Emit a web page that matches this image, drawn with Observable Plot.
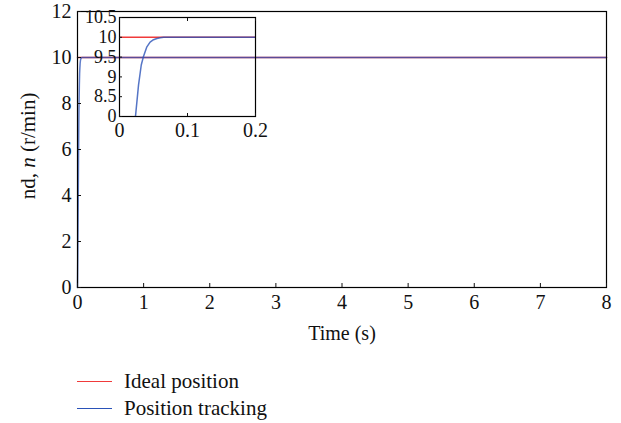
<!DOCTYPE html>
<html>
<head>
<meta charset="utf-8">
<script src="https://cdn.jsdelivr.net/npm/d3@7"></script>
<script src="https://cdn.jsdelivr.net/npm/@observablehq/plot@0.6"></script>
<style>
  html, body { margin: 0; padding: 0; background: #fff; }
  #wrap { position: relative; width: 621px; height: 423px; font-family: "Liberation Serif", "DejaVu Serif", serif; }
  #inset { position: absolute; left: 0; top: 0; }
  #legend { position: absolute; left: 77px; top: 368px; font-size: 21px; color: #111; line-height: 27px; }
  #legend .row { display: flex; align-items: center; }
  #legend .sw { width: 35px; height: 0; border-top: 1.5px solid; margin-right: 12px; }
</style>
</head>
<body>
<div id="wrap"></div>
<script>
// ---- data ----
const idealTime = [0, 8];
const idealSpeed = [10, 10];
const trackTime = [0, 0.005, 0.01, 0.015, 0.02, 0.0235, 0.028, 0.032, 0.035, 0.04, 0.045, 0.05, 0.055, 0.06, 0.065, 0.1, 0.2, 8];
const trackSpeed = [0, 1.5, 3.5, 5.5, 7.2, 8.0, 8.8, 9.3, 9.5, 9.75, 9.88, 9.94, 9.97, 9.99, 10, 10, 10, 10];
const mainXTicks = [0, 1, 2, 3, 4, 5, 6, 7, 8];
const mainYTicks = [0, 2, 4, 6, 8, 10, 12];
const insetXTicks = [0, 0.1, 0.2];
const insetYTicks = [8, 8.5, 9, 9.5, 10, 10.5];
const insetYTickLabels = ["0", "8.5", "9", "9.5", "10", "10.5"];
const seriesNames = ["Ideal position", "Position tracking"];
const seriesColors = ["#f03a3a", "#2a52b8"];

const ideal = idealTime.map((t, i) => ({t, v: idealSpeed[i]}));
const track = trackTime.map((t, i) => ({t, v: trackSpeed[i]}));

const font = "Liberation Serif";
const wrap = document.getElementById("wrap");

const main = Plot.plot({
  width: 621,
  height: 345,
  marginTop: 11,
  marginLeft: 77,
  marginRight: 15,
  marginBottom: 58,
  style: {fontFamily: font, fontSize: "20px", color: "#111", background: "transparent"},
  x: {domain: [0, 8]},
  y: {domain: [0, 12]},
  marks: [
    Plot.line(ideal, {x: "t", y: "v", stroke: seriesColors[0], strokeWidth: 1.5}),
    Plot.line(track, {x: "t", y: "v", stroke: seriesColors[1], strokeWidth: 1.5, strokeOpacity: 0.75}),
    Plot.frame({stroke: "#000", strokeWidth: 1.2}),
    Plot.axisX({ticks: mainXTicks, tickSize: -4, tickPadding: 11, tickFormat: d3.format("d"), label: "Time (s)", labelAnchor: "center", labelArrow: "none", labelOffset: 52}),
    Plot.axisY({ticks: mainYTicks, tickSize: -4, tickPadding: 10, tickFormat: d3.format("d"), label: null})
  ]
});
wrap.appendChild(main);

// y-axis label with italic n
const ns = "http://www.w3.org/2000/svg";
const lab = document.createElementNS(ns, "text");
lab.setAttribute("transform", "translate(28,146) rotate(-90)");
lab.setAttribute("text-anchor", "middle");
lab.setAttribute("dominant-baseline", "central");
lab.setAttribute("font-family", font);
lab.setAttribute("font-size", "21px");
lab.setAttribute("fill", "#111");
const t1 = document.createElementNS(ns, "tspan"); t1.textContent = "nd, ";
const t2 = document.createElementNS(ns, "tspan"); t2.textContent = "n"; t2.setAttribute("font-style", "italic");
const t3 = document.createElementNS(ns, "tspan"); t3.textContent = " (r/min)";
lab.append(t1, t2, t3);
main.appendChild(lab);

const inset = Plot.plot({
  width: 300,
  height: 150,
  marginTop: 17,
  marginLeft: 119,
  marginRight: 45,
  marginBottom: 34,
  style: {fontFamily: font, fontSize: "18px", color: "#111", background: "transparent"},
  x: {domain: [0, 0.2]},
  y: {domain: [8, 10.5]},
  marks: [
    Plot.line(ideal, {x: "t", y: "v", stroke: seriesColors[0], strokeWidth: 1.5, clip: true}),
    Plot.line(track, {x: "t", y: "v", stroke: seriesColors[1], strokeWidth: 1.5, strokeOpacity: 0.8, clip: true}),
    Plot.frame({stroke: "#000", strokeWidth: 1.2}),
    Plot.axisX({ticks: insetXTicks, tickSize: -3, tickPadding: 9, fontSize: 20, tickFormat: d => d === 0 ? "0" : d3.format(".1f")(d), label: null}),
    Plot.axisX({anchor: "top", ticks: insetXTicks, tickSize: -3, tickFormat: () => "", label: null}),
    Plot.axisY({ticks: insetYTicks, tickSize: -3, tickPadding: 6, tickFormat: d => insetYTickLabels[insetYTicks.indexOf(d)], label: null})
  ]
});
inset.id = "inset";
wrap.appendChild(inset);

// legend
const legend = document.createElement("div");
legend.id = "legend";
seriesNames.forEach((name, i) => {
  const row = document.createElement("div");
  row.className = "row";
  const sw = document.createElement("span");
  sw.className = "sw";
  sw.style.borderTopColor = seriesColors[i];
  const tx = document.createElement("span");
  tx.textContent = name;
  row.append(sw, tx);
  legend.appendChild(row);
});
wrap.appendChild(legend);
</script>
</body>
</html>
